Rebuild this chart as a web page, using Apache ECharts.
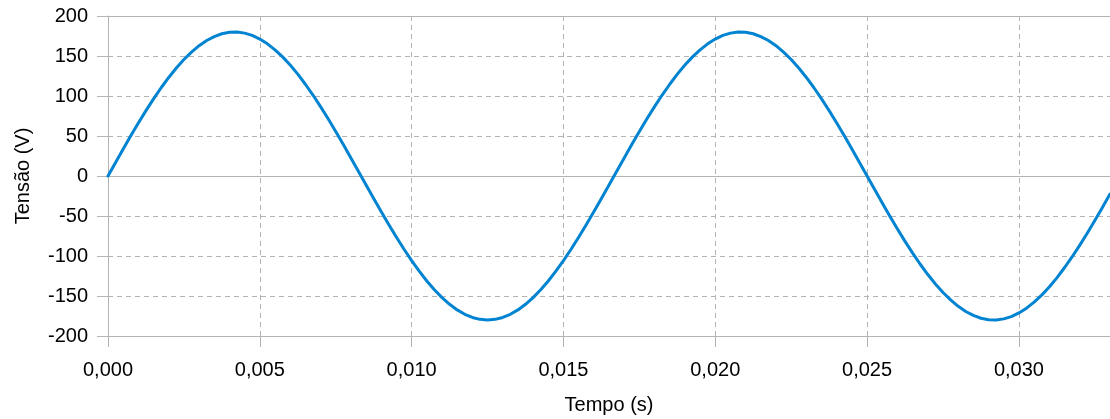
<!DOCTYPE html>
<html>
<head>
<meta charset="utf-8">
<script src="https://cdn.jsdelivr.net/npm/echarts@6/dist/echarts.min.js"></script>
<style>
html,body{margin:0;padding:0;background:#fff;}
#chart{width:1110px;height:419px;}
</style>
</head>
<body>
<div id="chart"></div>
<script>
// Time (s) sampled every 0.00025 s
const tempo = [
  0.00000,0.00025,0.00050,0.00075,0.00100,0.00125,0.00150,0.00175,0.00200,0.00225,
  0.00250,0.00275,0.00300,0.00325,0.00350,0.00375,0.00400,0.00425,0.00450,0.00475,
  0.00500,0.00525,0.00550,0.00575,0.00600,0.00625,0.00650,0.00675,0.00700,0.00725,
  0.00750,0.00775,0.00800,0.00825,0.00850,0.00875,0.00900,0.00925,0.00950,0.00975,
  0.01000,0.01025,0.01050,0.01075,0.01100,0.01125,0.01150,0.01175,0.01200,0.01225,
  0.01250,0.01275,0.01300,0.01325,0.01350,0.01375,0.01400,0.01425,0.01450,0.01475,
  0.01500,0.01525,0.01550,0.01575,0.01600,0.01625,0.01650,0.01675,0.01700,0.01725,
  0.01750,0.01775,0.01800,0.01825,0.01850,0.01875,0.01900,0.01925,0.01950,0.01975,
  0.02000,0.02025,0.02050,0.02075,0.02100,0.02125,0.02150,0.02175,0.02200,0.02225,
  0.02250,0.02275,0.02300,0.02325,0.02350,0.02375,0.02400,0.02425,0.02450,0.02475,
  0.02500,0.02525,0.02550,0.02575,0.02600,0.02625,0.02650,0.02675,0.02700,0.02725,
  0.02750,0.02775,0.02800,0.02825,0.02850,0.02875,0.02900,0.02925,0.02950,0.02975,
  0.03000,0.03025,0.03050,0.03075,0.03100,0.03125,0.03150,0.03175,0.03200,0.03225,
  0.03250,0.03275,0.03300
];
// Voltage (V)
const tensao = [
  0,16.9,33.7,50.2,66.3,81.7,96.4,110.3,123.2,135.0,
  145.6,154.9,162.9,169.4,174.3,177.8,179.6,179.9,178.6,175.7,
  171.2,165.2,157.7,148.9,138.7,127.3,114.7,101.2,86.7,71.5,
  55.6,39.3,22.6,5.7,-11.3,-28.2,-44.8,-61.0,-76.6,-91.6,
  -105.8,-119.0,-131.2,-142.2,-152.0,-160.4,-167.4,-172.9,-176.8,-179.2,
  -180,-179.2,-176.8,-172.9,-167.4,-160.4,-152.0,-142.2,-131.2,-119.0,
  -105.8,-91.6,-76.6,-61.0,-44.8,-28.2,-11.3,5.7,22.6,39.3,
  55.6,71.5,86.7,101.2,114.7,127.3,138.7,148.9,157.7,165.2,
  171.2,175.7,178.6,179.9,179.6,177.8,174.3,169.4,162.9,154.9,
  145.6,135.0,123.2,110.3,96.4,81.7,66.3,50.2,33.7,16.9,
  0,-16.9,-33.7,-50.2,-66.3,-81.7,-96.4,-110.3,-123.2,-135.0,
  -145.6,-154.9,-162.9,-169.4,-174.3,-177.8,-179.6,-179.9,-178.6,-175.7,
  -171.2,-165.2,-157.7,-148.9,-138.7,-127.3,-114.7,-101.2,-86.7,-71.5,
  -55.6,-39.3,-22.6
];
const xTicks = [0, 0.005, 0.010, 0.015, 0.020, 0.025, 0.030];
const yTicks = [-200, -150, -100, -50, 0, 50, 100, 150, 200];

const gridColor = '#b3b3b3';
const font = 'Liberation Sans, Arial, sans-serif';

const chart = echarts.init(document.getElementById('chart'), null, {renderer: 'canvas'});
chart.setOption({
  animation: false,
  backgroundColor: '#ffffff',
  textStyle: {fontFamily: font},
  grid: {left: 108, top: 16, right: 0, bottom: 83, containLabel: false, outerBoundsMode: 'none'},
  xAxis: {
    type: 'value',
    min: 0,
    max: 0.033,
    interval: 0.005,
    name: 'Tempo (s)',
    nameLocation: 'middle',
    nameGap: 59,
    nameTextStyle: {color: '#000', fontSize: 20, fontFamily: font},
    axisLine: {show: true, onZero: false, lineStyle: {color: gridColor, width: 1}},
    axisTick: {show: true, length: 11, lineStyle: {color: gridColor}},
    axisLabel: {
      color: '#000', fontSize: 20, fontFamily: font, margin: 24,
      showMaxLabel: false,
      formatter: v => xTicks.some(t => Math.abs(t - v) < 1e-9) ? v.toFixed(3).replace('.', ',') : ''
    },
    splitLine: {show: true, lineStyle: {color: gridColor, type: [5, 4], width: 1}}
  },
  yAxis: {
    type: 'value',
    min: -200,
    max: 200,
    interval: 50,
    name: 'Tensão (V)',
    nameLocation: 'middle',
    nameGap: 75,
    nameTextStyle: {color: '#000', fontSize: 20, fontFamily: font},
    axisLine: {show: true, lineStyle: {color: gridColor, width: 1}},
    axisTick: {show: true, length: 11, lineStyle: {color: gridColor}},
    axisLabel: {
      color: '#000', fontSize: 20, fontFamily: font, margin: 20,
      formatter: v => yTicks.includes(v) ? String(v) : ''
    },
    splitLine: {show: true, lineStyle: {color: gridColor, type: [5, 4], width: 1}}
  },
  series: [{
    type: 'line',
    data: tempo.map((t, i) => [t, tensao[i]]),
    smooth: false,
    showSymbol: false,
    symbol: 'none',
    lineStyle: {color: '#0084d1', width: 3, join: 'round', cap: 'round'},
    clip: true,
    markLine: {
      silent: true,
      symbol: ['none', 'none'],
      label: {show: false},
      lineStyle: {color: gridColor, type: 'solid', width: 1},
      data: [{yAxis: 0}, {yAxis: 200}],
      z: 1
    }
  }]
});
</script>
</body>
</html>
